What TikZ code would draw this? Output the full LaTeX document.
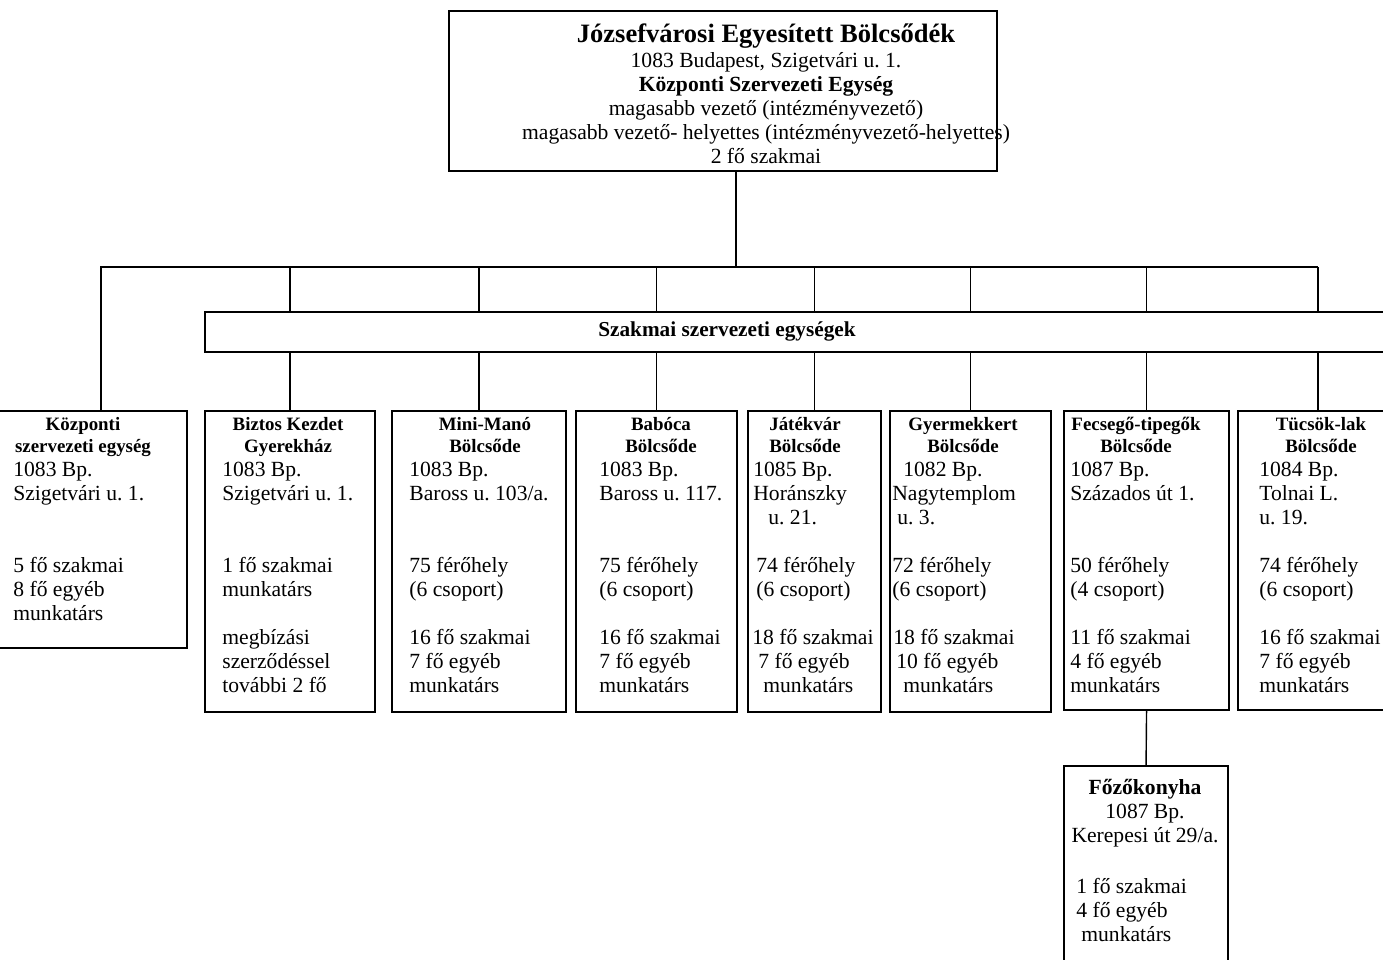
\documentclass[tikz,border=0pt]{standalone}
\usepackage{fontspec}
\setmainfont{Liberation Serif}
\frenchspacing
\newlength\pxu
\setlength\pxu{0.02cm}
\tikzset{
  unit/.style={draw,line width=1.2pt,inner sep=0pt,anchor=north west},
  head/.style={align=center,inner sep=0pt,anchor=north,font=\bfseries\fontsize{10.75}{12.5}\selectfont},
  body/.style={align=left,inner sep=0pt,anchor=north west,font=\fontsize{12.3}{13.66}\selectfont},
  link/.style={line width=0.8pt},
}
\begin{document}
\begin{tikzpicture}[x=0.02cm,y=-0.02cm]
\clip (0,0) rectangle (1383,960);
% boxes
\node[unit,minimum width=548\pxu,minimum height=160\pxu] (jeb) at (448,10) {};
\foreach \n/\x/\y/\w/\h in {kozp/-20/410/206/237,biztos/204/410/170/301,mini/391/410/174/301,
    baboca/575/410/161/301,jatek/747/410/133/301,gyermek/889/410/161/301,
    fecsego/1063/410/165/299,tucsok/1237/410/160/299,fozo/1063/765/164/230}
  \node[unit,minimum width=\w\pxu,minimum height=\h\pxu] (\n) at (\x,\y) {};
% connectors
\coordinate (hub) at (736,267);
\coordinate (left) at (101,267);
\draw[link] (jeb.south -| hub) -- (hub);
\draw[link] (left |- kozp.north) -- (left) -- (tucsok.north |- hub);
\foreach \n in {biztos,mini,baboca,jatek,gyermek,fecsego,tucsok}
  \draw[link] (\n.north) -- (\n.north |- hub);
\draw[link] (fecsego.south) -- (fozo.north);
% band
\node[unit,fill=white,minimum width=1220\pxu,minimum height=40\pxu] (szak) at (204,311) {};
\node[font=\bfseries\fontsize{12.1}{14}\selectfont,inner sep=0pt,anchor=base] (szaktext) at (727,336) {Szakmai szervezeti egységek};
% texts
\node[body,align=center,anchor=north] (jebtext) at (766,23) {{\fontsize{15.1}{18}\selectfont\bfseries Józsefvárosi Egyesített Bölcsődék}\\[1\pxu]
  1083 Budapest, Szigetvári u. 1.\\\textbf{Központi Szervezeti Egység}\\magasabb vezető (intézményvezető)\\
  magasabb vezető- helyettes (intézményvezető-helyettes)\\2 fő szakmai};
\node[head] (kozph) at (83,417) {Központi\\szervezeti egység};
\node[head] (biztosh) at (288,417) {Biztos Kezdet\\Gyerekház};
\node[head] (minih) at (485,417) {Mini-Manó\\Bölcsőde};
\node[head] (babocah) at (661,417) {Babóca\\Bölcsőde};
\node[head] (jatekh) at (805,417) {Játékvár\\Bölcsőde};
\node[head] (gyermekh) at (963,417) {Gyermekkert\\Bölcsőde};
\node[head] (fecsegoh) at (1136,417) {Fecsegő-tipegők\\Bölcsőde};
\node[head] (tucsokh) at (1321,417) {Tücsök-lak\\Bölcsőde};
\node[body] (kozpb) at (13,462) {1083 Bp.\\Szigetvári u. 1.\\[2\baselineskip]5 fő szakmai\\8 fő egyéb\\munkatárs};
\node[body] (biztosb) at (222,462) {1083 Bp.\\Szigetvári u. 1.\\[2\baselineskip]1 fő szakmai\\munkatárs\\[\baselineskip]megbízási\\szerződéssel\\további 2 fő};
\node[body] (minib) at (409,462) {1083 Bp.\\Baross u. 103/a.\\[2\baselineskip]75 férőhely\\(6 csoport)\\[\baselineskip]16 fő szakmai\\7 fő egyéb\\munkatárs};
\node[body] (babocab) at (599,462) {1083 Bp.\\Baross u. 117.\\[2\baselineskip]75 férőhely\\(6 csoport)\\[\baselineskip]16 fő szakmai\\7 fő egyéb\\munkatárs};
\node[body] (jatekb) at (752,462) {\hspace*{1\pxu}1085 Bp.\\\hspace*{1\pxu}Horánszky\\\hspace*{16\pxu}u. 21.\\[\baselineskip]\hspace*{4\pxu}74 férőhely\\
  \hspace*{4\pxu}(6 csoport)\\[\baselineskip]18 fő szakmai\\\hspace*{6\pxu}7 fő egyéb\\\hspace*{11\pxu}munkatárs};
\node[body] (gyermekb) at (892,462) {\hspace*{11\pxu}1082 Bp.\\Nagytemplom\\\hspace*{5\pxu}u. 3.\\[\baselineskip]72 férőhely\\(6 csoport)\\[\baselineskip]
  \hspace*{1\pxu}18 fő szakmai\\\hspace*{4\pxu}10 fő egyéb\\\hspace*{11\pxu}munkatárs};
\node[body] (fecsegob) at (1070,462) {1087 Bp.\\Százados út 1.\\[2\baselineskip]50 férőhely\\(4 csoport)\\[\baselineskip]11 fő szakmai\\4 fő egyéb\\munkatárs};
\node[body] (tucsokb) at (1259,462) {1084 Bp.\\Tolnai L.\\u. 19.\\[\baselineskip]74 férőhely\\(6 csoport)\\[\baselineskip]16 fő szakmai\\7 fő egyéb\\munkatárs};
\node[body,align=center,anchor=north] (fozoh) at (1145,779) {\textbf{Főzőkonyha}\\1087 Bp.\\Kerepesi út 29/a.};
\node[body] (fozob) at (1076,878) {1 fő szakmai\\4 fő egyéb\\\hspace*{5\pxu}munkatárs};
\end{tikzpicture}
\end{document}
